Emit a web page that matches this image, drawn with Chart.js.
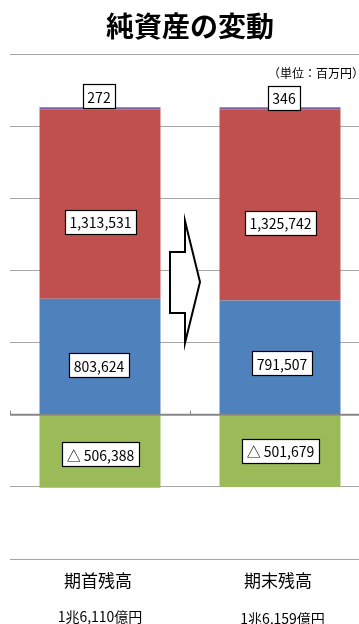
<!DOCTYPE html>
<html lang="ja">
<head>
<meta charset="utf-8">
<title>純資産の変動</title>
<script src="https://cdn.jsdelivr.net/npm/chart.js@4.4.1/dist/chart.umd.min.js"></script>
<style>
  html, body { margin: 0; padding: 0; background: #fff; overflow: hidden; }
  #wrap { width: 380px; height: 624px; }
</style>
</head>
<body>
<div id="wrap"><canvas id="netAssets" width="380" height="624"></canvas></div>
<script>
// data (百万円)
const categories = ["期首残高", "期末残高"];
const totals = ["1兆6,110億円", "1兆6,159億円"];
const seriesBlue = [803624, 791507];
const seriesRed = [1313531, 1325742];
const seriesPurple = [272, 346];
const seriesGreen = [-506388, -501679];
const yMin = -1000000;
const yMax = 2500000;
const yStep = 500000;

const FONT = "'Noto Sans CJK JP', 'Noto Sans', sans-serif";

// hand nudges for the value boxes, [期首, 期末]
const boxNudge = [
  { dx: [-1, 2], dy: [9, 6] },       // blue
  { dx: [0.5, 0.5], dy: [18, 18] },  // red
  { dx: [-1, 4], dy: [0, 1.5] },     // purple (sits above the bar)
  { dx: [0.5, 0.5], dy: [3, 0] },    // green
];

function fmt(v) {
  const s = Math.abs(v).toLocaleString("en-US");
  return v < 0 ? "△ " + s : s;
}

function drawBox(ctx, text, cx, cy) {
  ctx.font = "14px " + FONT;
  const w = Math.round(ctx.measureText(text).width + 9);
  const h = 24;
  const x = Math.round(cx - w / 2) + 0.5;
  const y = Math.round(cy - h / 2) + 0.5;
  ctx.fillStyle = "#fff";
  ctx.fillRect(x, y, w, h);
  ctx.strokeStyle = "#000";
  ctx.lineWidth = 1.2;
  ctx.strokeRect(x, y, w, h);
  ctx.fillStyle = "#000";
  ctx.textAlign = "center";
  ctx.textBaseline = "middle";
  ctx.fillText(text, cx, cy + 1);
}

const decor = {
  id: "decor",
  afterDatasetsDraw(chart) {
    const ctx = chart.ctx;
    const xs = chart.scales.x;
    const ys = chart.scales.y;
    const area = chart.chartArea;
    const y0 = ys.getPixelForValue(0);

    ctx.save();
    // zero axis over the bars
    ctx.strokeStyle = "#868686";
    ctx.lineWidth = 2;
    ctx.beginPath();
    ctx.moveTo(area.left, y0);
    ctx.lineTo(area.right, y0);
    ctx.stroke();
    // category tick marks
    ctx.lineWidth = 1;
    const half = (xs.getPixelForValue(1) - xs.getPixelForValue(0)) / 2;
    [xs.getPixelForValue(0) - half, xs.getPixelForValue(0) + half].forEach((tx) => {
      ctx.beginPath();
      ctx.moveTo(Math.round(tx) + 0.5, y0 - 4);
      ctx.lineTo(Math.round(tx) + 0.5, y0);
      ctx.stroke();
    });

    // arrow between the bars
    ctx.beginPath();
    ctx.moveTo(170, 252);
    ctx.lineTo(185, 252);
    ctx.lineTo(185, 221);
    ctx.lineTo(200, 282);
    ctx.lineTo(185, 343);
    ctx.lineTo(185, 313);
    ctx.lineTo(170, 313);
    ctx.closePath();
    ctx.fillStyle = "#fff";
    ctx.fill();
    ctx.strokeStyle = "#000";
    ctx.lineWidth = 2;
    ctx.lineJoin = "miter";
    ctx.stroke();

    // value boxes
    chart.data.datasets.forEach((ds, d) => {
      const meta = chart.getDatasetMeta(d);
      meta.data.forEach((el, i) => {
        const n = boxNudge[d];
        let cy;
        if (d === 2) {
          cy = el.base - 13 + n.dy[i];
        } else {
          cy = (el.y + el.base) / 2 + n.dy[i];
        }
        drawBox(ctx, fmt(ds.data[i]), el.x + n.dx[i], cy);
      });
    });
    ctx.restore();
  },
  afterDraw(chart) {
    const ctx = chart.ctx;
    const xs = chart.scales.x;
    const area = chart.chartArea;
    ctx.save();
    ctx.fillStyle = "#000";
    ctx.textBaseline = "middle";

    ctx.textAlign = "center";
    ctx.font = "bold 28px " + FONT;
    ctx.fillText("純資産の変動", chart.width / 2, 26);

    ctx.textAlign = "right";
    ctx.font = "12px " + FONT;
    ctx.fillText("（単位：百万円）", 364, 73);

    ctx.textAlign = "center";
    categories.forEach((c, i) => {
      const cx = xs.getPixelForValue(i);
      ctx.font = "17px " + FONT;
      ctx.fillText(c, cx - 2, area.bottom + 22);
      ctx.font = "14px " + FONT;
      ctx.fillText(totals[i], cx + (i === 0 ? 0 : 2.5), area.bottom + 58 + i * 2);
    });
    ctx.restore();
  },
};

new Chart(document.getElementById("netAssets"), {
  type: "bar",
  data: {
    labels: categories,
    datasets: [
      { label: "blue", data: seriesBlue, backgroundColor: "#4F81BD" },
      { label: "red", data: seriesRed, backgroundColor: "#C0504D" },
      { label: "purple", data: seriesPurple, backgroundColor: "#8064A2", minBarLength: 2 },
      { label: "green", data: seriesGreen, backgroundColor: "#9BBB59" },
    ],
  },
  options: {
    responsive: false,
    animation: false,
    devicePixelRatio: 1,
    layout: { padding: { top: 54, bottom: 65, left: 10, right: 10 } },
    datasets: {
      bar: { barPercentage: 0.672, categoryPercentage: 1, borderWidth: 0 },
    },
    plugins: {
      legend: { display: false },
      tooltip: { enabled: false },
    },
    scales: {
      x: { stacked: true, display: false },
      y: {
        stacked: true,
        min: yMin,
        max: yMax,
        ticks: { stepSize: yStep, display: false },
        border: { display: false },
        grid: { color: "#a6a6a6", lineWidth: 1, drawTicks: false },
      },
    },
  },
  plugins: [decor],
});
</script>
</body>
</html>
